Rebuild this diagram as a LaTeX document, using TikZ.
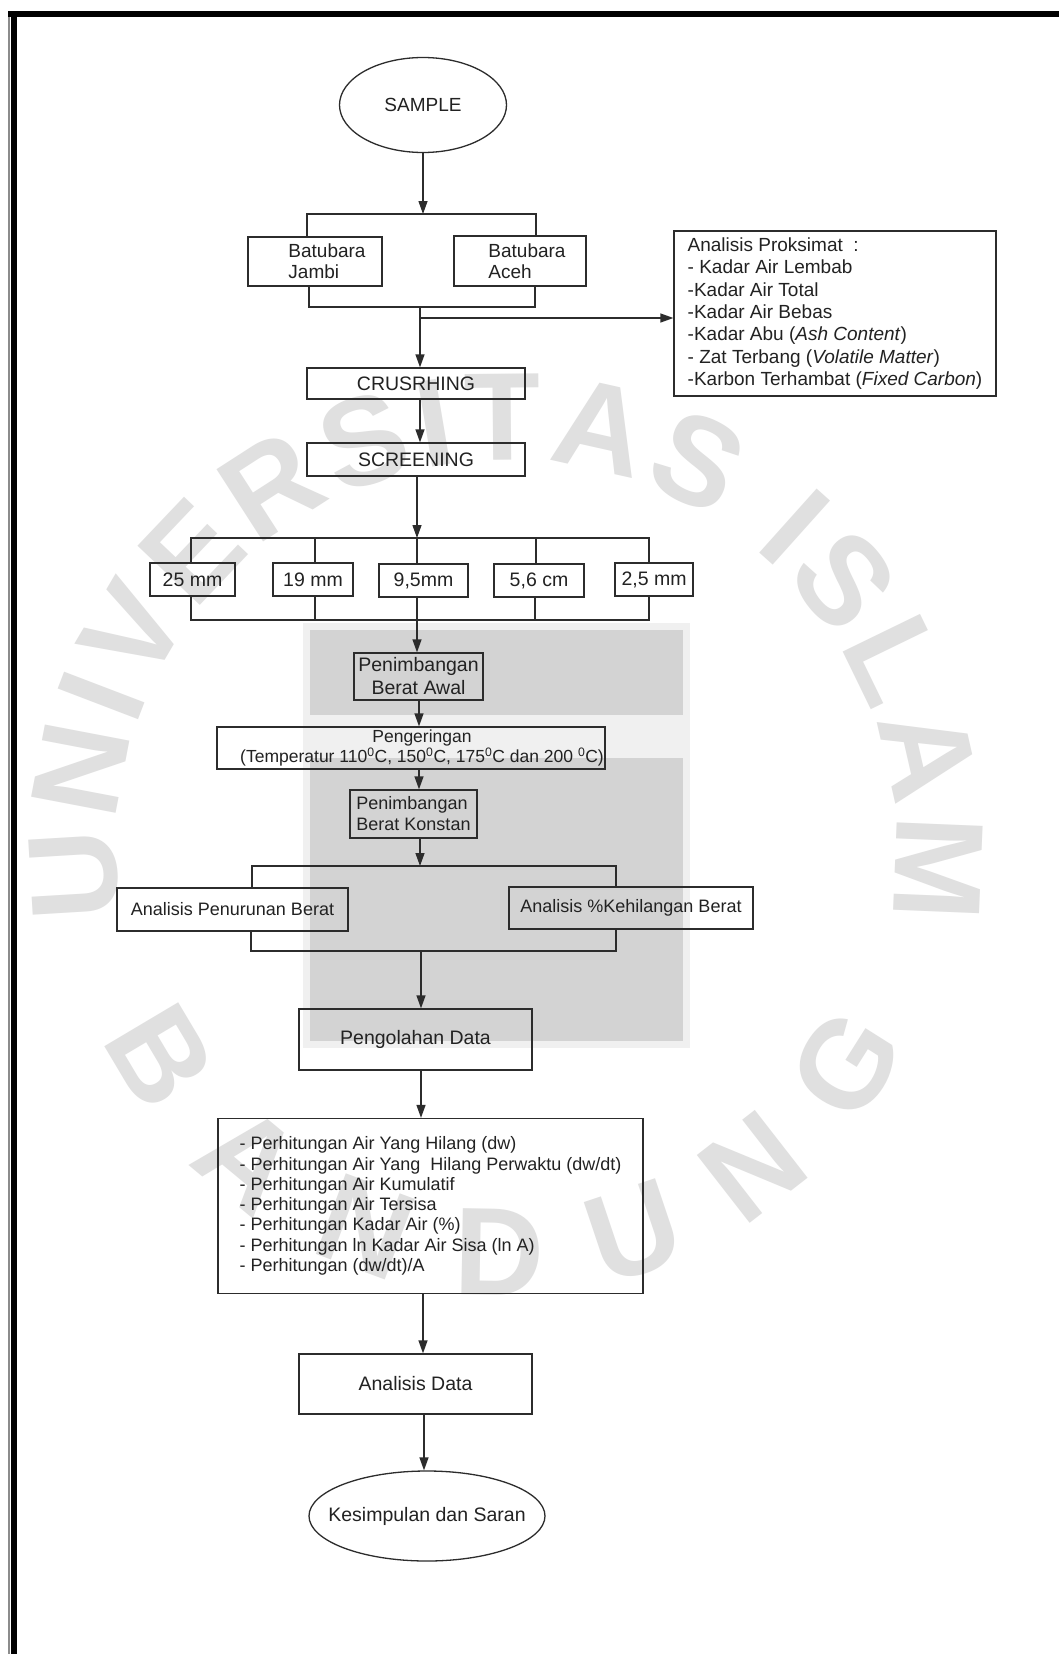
\documentclass[tikz,border=0pt]{standalone}
\usepackage{fontspec}
\setmainfont{Liberation Sans}
\newfontfamily\wmfont{Liberation Sans}
\usetikzlibrary{arrows.meta,shapes.geometric,decorations.text}
\definecolor{linec}{HTML}{2C2C2C}
\definecolor{txt}{HTML}{222222}
\definecolor{wm}{HTML}{E0E0E0}
\definecolor{logo}{HTML}{D3D3D3}
\definecolor{logorim}{HTML}{F0F0F0}
\newcommand\wmstyle{\wmfont\bfseries\fontsize{125pt}{125pt}\selectfont\color{wm}}
\newcommand\fz[2]{\fontsize{#1pt}{#2pt}\selectfont}
\begin{document}
\begin{tikzpicture}[x=1pt,y=-1pt,
  box/.style={draw=linec, line width=1.3pt, inner sep=0pt, text=txt, font=\fz{19.5}{22}},
  ln/.style={draw=linec, line width=1.3pt},
  arr/.style={draw=linec, line width=1.3pt, -{Triangle[length=13pt,width=9pt]}}]
\useasboundingbox (0,0) rectangle (1059,1654);
\fill[white] (0,0) rectangle (1059,1654);
% frame
\fill[black] (8,11) rectangle (1059,17);
\fill[black] (11,11) rectangle (17,1654);
\fill[black!45] (8,17) rectangle (9.5,1654);
% watermark
\begin{scope}[shift={(506,850)}, y=1pt]
  \path[decorate, decoration={text along path, text={|\wmstyle|UNIVERSITAS ISLAM}, text align={fit to path}}]
    (190:390) arc (190:-10:390);
  \path[decorate, decoration={text along path, text={|\wmstyle|BANDUNG}, text align={fit to path}}]
    (205:445) arc (205:334:445);
\end{scope}
\fill[logorim] (303,623) rectangle (690,1048);
\fill[logo] (310,630) rectangle (683,715);
\fill[logo] (310,758) rectangle (683,1041);
% nodes
\node[box, ellipse, minimum width=167pt, minimum height=95pt, font=\fz{19}{22}] (sample) at (423,105) {\makebox[0pt]{SAMPLE}};
\node[box, minimum width=134pt, minimum height=49pt, align=left, font=\fz{19}{21}] (jambi) at (315,261.5) {\hspace*{24pt}Batubara\\\hspace*{24pt}Jambi};
\node[box, minimum width=132pt, minimum height=50pt, align=left, font=\fz{19}{21}] (aceh) at (520,261) {\hspace*{14pt}Batubara\\\hspace*{14pt}Aceh};
\node[box, minimum width=322pt, minimum height=165pt, align=left, font=\fz{19}{22.3}] (prox) at (835,313.5)
  {Analisis Proksimat\ \ :\\- Kadar Air Lembab\\-Kadar Air Total\\-Kadar Air Bebas\\-Kadar Abu (\textit{Ash Content})\\- Zat Terbang (\textit{Volatile Matter})\\-Karbon Terhambat (\textit{Fixed Carbon})};
\node[box, minimum width=218pt, minimum height=31pt] (crush) at (416,383.5) {CRUSRHING};
\node[box, minimum width=218pt, minimum height=33pt] (screen) at (416,459.5) {SCREENING};
\node[box, minimum width=85pt, minimum height=33pt] (sa) at (192.5,579.5) {25 mm};
\node[box, minimum width=80pt, minimum height=33pt] (sb) at (313,579.5) {19 mm};
\node[box, minimum width=89pt, minimum height=33pt] (sc) at (423.5,580.5) {9,5mm};
\node[box, minimum width=90pt, minimum height=33pt] (sd) at (539,580.5) {5,6 cm};
\node[box, minimum width=78pt, minimum height=33pt] (se) at (654,579.5) {2,5 mm};
\node[box, minimum width=129pt, minimum height=47pt, align=center, font=\fz{19.5}{23}] (pawal) at (418.5,676.5) {Penimbangan\\Berat Awal};
\node[box, minimum width=388pt, minimum height=42pt, align=center, font=\fz{17.5}{20}] (peng) at (411,748)
  {\hspace*{22pt}Pengeringan\\\hspace*{22pt}(Temperatur 110\textsuperscript{0}C, 150\textsuperscript{0}C, 175\textsuperscript{0}C dan 200 \textsuperscript{0}C)};
\node[box, minimum width=127pt, minimum height=48pt, align=left, font=\fz{18}{21}] (pkonst) at (413.5,814) {Penimbangan\\Berat Konstan};
\node[box, minimum width=231pt, minimum height=43pt, font=\fz{18}{21}] (apb) at (232.5,909.5) {Analisis Penurunan Berat};
\node[box, minimum width=244pt, minimum height=42pt, font=\fz{18}{21}] (akb) at (631,908) {Analisis \%Kehilangan Berat};
\node[box, minimum width=233pt, minimum height=61pt] (pdata) at (415.5,1039.5) {Pengolahan Data};
\node[box, minimum width=425pt, minimum height=175pt, align=left, font=\fz{18}{20.3}] (hitung) at (430.5,1206)
  {- Perhitungan Air Yang Hilang (dw)\\- Perhitungan Air Yang\ \ Hilang Perwaktu (dw/dt)\\- Perhitungan Air Kumulatif\\- Perhitungan Air Tersisa\\- Perhitungan Kadar Air (\%)\\- Perhitungan ln Kadar Air Sisa (ln A)\\- Perhitungan (dw/dt)/A};
\node[box, minimum width=233pt, minimum height=60pt] (adata) at (415.5,1384) {Analisis Data};
\node[box, ellipse, minimum width=236pt, minimum height=90pt] (kes) at (427,1516) {\makebox[0pt]{Kesimpulan dan Saran}};
% junction coordinates
\coordinate (t1) at (423,214);
\coordinate (t2) at (420,307);
\coordinate (t3) at (420,318);
\coordinate (szt) at (417,538);
\coordinate (szb) at (417,620);
\coordinate (ax) at (419,0);
\coordinate (t4) at (420,866);
\coordinate (t5) at (421,951);
\coordinate (xa) at (423,0);
\coordinate (xb) at (424,0);
% connectors
\draw[arr] (sample.south) -- (t1);
\draw[ln] ([xshift=-8pt]jambi.north) |- (t1) -| ([xshift=16pt]aceh.north);
\draw[ln] ([xshift=-6pt]jambi.south) |- (t2) -| ([xshift=15pt]aceh.south);
\draw[arr] (t2) -- (crush.north -| t2);
\draw[arr] (t3) -- (t3 -| prox.west);
\draw[arr] (crush.south -| t2) -- (screen.north -| t2);
\draw[arr] (screen.south -| szt) -- (szt);
\draw[ln] ([xshift=-1.5pt]sa.north) |- (szt) -| ([xshift=-5pt]se.north);
\draw[ln] ([xshift=2pt]sb.north) -- ([xshift=2pt]sb.north |- szt);
\draw[ln] (sc.north -| szt) -- (szt);
\draw[ln] ([xshift=-3pt]sd.north) -- ([xshift=-3pt]sd.north |- szt);
\draw[ln] ([xshift=-1.5pt]sa.south) |- (szb) -| ([xshift=-5pt]se.south);
\draw[ln] ([xshift=2pt]sb.south) -- ([xshift=2pt]sb.south |- szb);
\draw[ln] ([xshift=-4pt]sd.south) -- ([xshift=-4pt]sd.south |- szb);
\draw[arr] (sc.south -| szb) -- (pawal.north -| szb);
\draw[arr] (pawal.south -| ax) -- (peng.north -| ax);
\draw[arr] (peng.south -| ax) -- (pkonst.north -| ax);
\draw[arr] (pkonst.south -| t4) -- (t4);
\draw[ln] ([xshift=19.5pt]apb.north) |- (t4) -| ([xshift=-15pt]akb.north);
\draw[ln] ([xshift=18.5pt]apb.south) |- (t5) -| ([xshift=-15pt]akb.south);
\draw[arr] (t5) -- (pdata.north -| t5);
\draw[arr] (pdata.south -| t5) -- (hitung.north -| t5);
\draw[arr] (hitung.south -| xa) -- (adata.north -| xa);
\draw[arr] (adata.south -| xb) -- (kes.north -| xb);
\end{tikzpicture}
\end{document}
